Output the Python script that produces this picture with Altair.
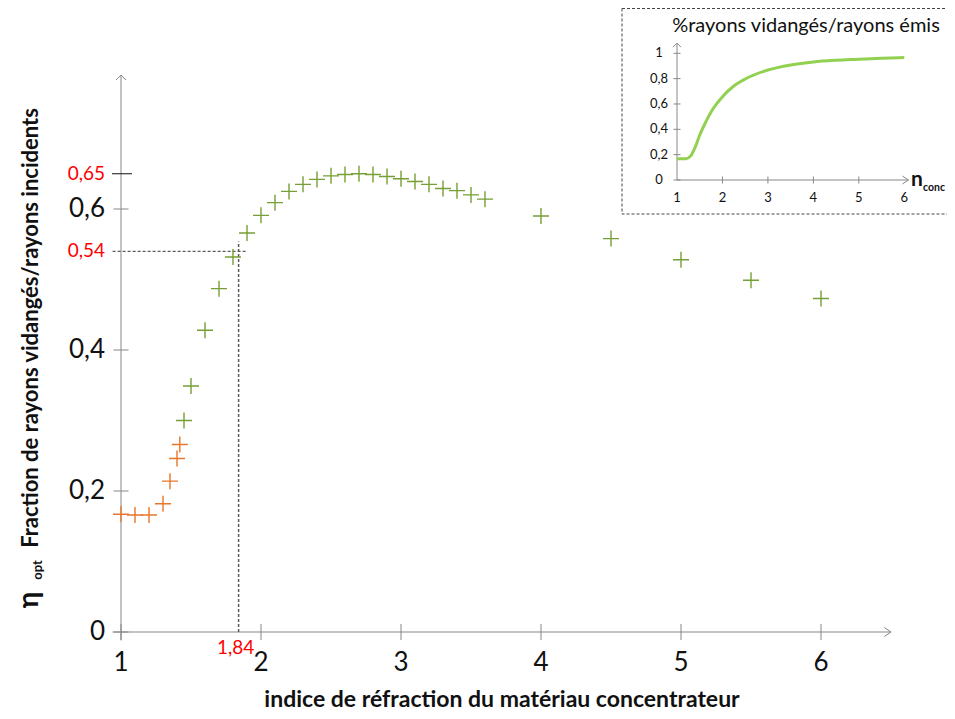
import altair as alt
import pandas as pd

# ---------------- data ----------------
orange_x = [1.0, 1.1, 1.2, 1.3, 1.35, 1.4, 1.42]
orange_y = [0.167, 0.166, 0.166, 0.182, 0.214, 0.246, 0.266]

green_x = [1.45, 1.5, 1.6, 1.7, 1.8, 1.9, 2.0, 2.1, 2.2, 2.3, 2.4, 2.5, 2.6, 2.7,
           2.8, 2.9, 3.0, 3.1, 3.2, 3.3, 3.4, 3.5, 3.6, 4.0, 4.5, 5.0, 5.5, 6.0]
green_y = [0.300, 0.349, 0.428, 0.487, 0.532, 0.566, 0.591, 0.609, 0.625, 0.635,
           0.642, 0.647, 0.649, 0.650, 0.649, 0.646, 0.643, 0.639, 0.635, 0.629,
           0.626, 0.620, 0.614, 0.590, 0.558, 0.528, 0.499, 0.473]

y_ticks = [0, 0.2, 0.4, 0.6]
y_tick_labels = ["0", "0,2", "0,4", "0,6"]
x_ticks = [1, 2, 3, 4, 5, 6]
x_tick_labels = ["1", "2", "3", "4", "5", "6"]

ref_y = [0.65, 0.54]
ref_y_labels = ["0,65", "0,54"]
ref_x = [1.84]
ref_x_labels = ["1,84"]

inset_x = [1.0, 1.2, 1.3, 1.4, 1.5, 1.6, 1.8, 2.0, 2.25, 2.5, 3.0, 3.5, 4.0, 4.5, 5.0, 5.5, 6.0]
inset_y = [0.168, 0.168, 0.19, 0.26, 0.355, 0.434, 0.566, 0.658, 0.742, 0.797, 0.868,
           0.908, 0.932, 0.945, 0.953, 0.961, 0.966]
inset_y_ticks = [0, 0.2, 0.4, 0.6, 0.8, 1]
inset_y_labels = ["0", "0,2", "0,4", "0,6", "0,8", "1"]
inset_x_ticks = [1, 2, 3, 4, 5, 6]
inset_x_labels = ["1", "2", "3", "4", "5", "6"]

# ---------------- styles ----------------
FONT = "Lato"
GRAY = "#878787"
ORANGE = "#E8762D"
GREEN = "#76A035"
LIME = "#92D050"
RED = "#FF0000"
BLACK = "#111111"
CROSS = "M-1,0L1,0M0,-1L0,1"

XS = alt.Scale(domain=[1, 6], range=[113, 813], nice=False, zero=False)
YS = alt.Scale(domain=[0, 0.6], range=[624, 201], nice=False, zero=False)
IXS = alt.Scale(domain=[1, 6], range=[669, 896.3], nice=False, zero=False)
IYS = alt.Scale(domain=[0, 1], range=[172, 45.3], nice=False, zero=False)

one = pd.DataFrame({"k": [0]})

df_orange = pd.DataFrame({"x": orange_x, "y": orange_y})
df_green = pd.DataFrame({"x": green_x, "y": green_y})
df_yt = pd.DataFrame({"v": y_ticks, "t": y_tick_labels})
df_xt = pd.DataFrame({"v": x_ticks, "t": x_tick_labels})
df_ry = pd.DataFrame({"v": ref_y, "t": ref_y_labels})
df_rx = pd.DataFrame({"v": ref_x, "t": ref_x_labels})
df_in = pd.DataFrame({"x": inset_x, "y": inset_y})
df_iyt = pd.DataFrame({"v": inset_y_ticks, "t": inset_y_labels})
df_ixt = pd.DataFrame({"v": inset_x_ticks, "t": inset_x_labels})


def mx(f="v"):
    return alt.X(f + ":Q", scale=XS, axis=None)


def my(f="v"):
    return alt.Y(f + ":Q", scale=YS, axis=None)


def dx_(v, s=XS):
    return alt.XDatum(v, scale=s, axis=None)


def dy_(v, s=YS):
    return alt.YDatum(v, scale=s, axis=None)


layers = []

# ---- main axes ----
layers.append(alt.Chart(one).mark_rule(color=GRAY, strokeWidth=1).encode(
    x=dx_(1), y=dy_(-0.012), y2=alt.Y2Datum(0.79)))
layers.append(alt.Chart(one).mark_rule(color=GRAY, strokeWidth=1).encode(
    x=dx_(0.94), x2=alt.X2Datum(6.5), y=dy_(0)))
layers.append(alt.Chart(one).mark_point(shape="M-1,1L0,0L1,1", size=100, filled=False,
                                        color=GRAY, strokeWidth=1, opacity=1).encode(
    x=dx_(1), y=dy_(0.79)))
layers.append(alt.Chart(one).mark_point(shape="M-1.5,-1L0,0L-1.5,1", size=81, filled=False,
                                        color=GRAY, strokeWidth=1, opacity=1).encode(
    x=dx_(6.5), y=dy_(0)))
# y ticks
layers.append(alt.Chart(df_yt).mark_point(shape="M-1,0L1,0", size=225, filled=False,
                                          color=GRAY, strokeWidth=1, opacity=1).encode(
    x=dx_(1), y=my()))
# x ticks
layers.append(alt.Chart(df_xt).mark_point(shape="M0,-1L0,1", size=256, filled=False,
                                          color=GRAY, strokeWidth=1, opacity=1).encode(
    x=mx(), y=dy_(0)))
# 0.65 tick (black)
layers.append(alt.Chart(df_ry.iloc[[0]]).mark_point(shape="M-1,0L1,0", size=400, filled=False,
                                                    color=BLACK, strokeWidth=1, opacity=1,
                                                    xOffset=1).encode(
    x=dx_(1), y=my()))
# tick labels
layers.append(alt.Chart(df_yt).mark_text(align="right", baseline="middle", dx=-16, fontSize=26,
                                         font=FONT, color=BLACK).encode(
    x=dx_(1), y=my(), text="t:N"))
layers.append(alt.Chart(df_xt).mark_text(align="center", baseline="middle", dy=31, fontSize=26,
                                         font=FONT, color=BLACK).encode(
    x=mx(), y=dy_(0), text="t:N"))
layers.append(alt.Chart(df_ry).mark_text(align="right", baseline="middle", dx=-16, fontSize=19,
                                         font=FONT, color=RED).encode(
    x=dx_(1), y=my(), text="t:N"))
layers.append(alt.Chart(df_rx).mark_text(align="center", baseline="middle", dx=-3, dy=16,
                                         fontSize=19, font=FONT, color=RED).encode(
    x=mx(), y=dy_(0), text="t:N"))

# ---- reference dashed lines ----
layers.append(alt.Chart(df_ry.iloc[[1]]).mark_rule(color="#333333", strokeWidth=1,
                                                   strokeDash=[3, 2]).encode(
    x=dx_(0.94), x2=alt.X2Datum(1.89), y=my()))
layers.append(alt.Chart(df_rx).mark_rule(color="#5a5a5a", strokeWidth=1.5,
                                         strokeDash=[3, 2]).encode(
    x=mx(), y=dy_(0), y2=alt.Y2Datum(0.554)))

# ---- data points ----
layers.append(alt.Chart(df_orange).mark_point(shape=CROSS, size=256, filled=False, color=ORANGE,
                                              strokeWidth=1.4, opacity=1).encode(
    x=mx("x"), y=my("y")))
layers.append(alt.Chart(df_green).mark_point(shape=CROSS, size=256, filled=False, color=GREEN,
                                             strokeWidth=1.4, opacity=1).encode(
    x=mx("x"), y=my("y")))

# ---- titles ----
layers.append(alt.Chart(one).mark_text(text="indice de réfraction du matériau concentrateur",
                                       font=FONT, fontSize=23, fontWeight="bold", color=BLACK,
                                       align="center", baseline="alphabetic").encode(
    x=alt.value(494), y=alt.value(699)))
layers.append(alt.Chart(one).mark_text(text="Fraction de rayons vidangés/rayons incidents",
                                       font=FONT, fontSize=22, fontWeight="bold", color=BLACK,
                                       align="center", baseline="alphabetic", angle=270).encode(
    x=alt.value(30), y=alt.value(320)))
layers.append(alt.Chart(one).mark_text(text="η", font=FONT, fontSize=28, fontWeight="bold",
                                       color=BLACK, align="center", baseline="alphabetic",
                                       angle=270).encode(
    x=alt.value(30), y=alt.value(592)))
layers.append(alt.Chart(one).mark_text(text="opt", font=FONT, fontSize=13, fontWeight="bold",
                                       color=BLACK, align="center", baseline="alphabetic",
                                       angle=270).encode(
    x=alt.value(34), y=alt.value(562)))

# ---- inset ----
layers.append(alt.Chart(one).mark_rect(fill="white", stroke="#444444", strokeWidth=1,
                                       strokeDash=[3, 2]).encode(
    x=alt.value(614), x2=alt.value(970), y=alt.value(0.5), y2=alt.value(206)))
layers.append(alt.Chart(one).mark_text(text="%rayons vidangés/rayons émis", font=FONT,
                                       fontSize=20, color=BLACK, align="center",
                                       baseline="middle").encode(
    x=alt.value(798), y=alt.value(18)))
layers.append(alt.Chart(one).mark_rule(color=GRAY, strokeWidth=1).encode(
    x=dx_(1, IXS), y=dy_(0, IYS), y2=alt.Y2Datum(1.08)))
layers.append(alt.Chart(one).mark_rule(color=GRAY, strokeWidth=1).encode(
    x=dx_(1, IXS), x2=alt.X2Datum(6.09), y=dy_(0, IYS)))
layers.append(alt.Chart(one).mark_point(shape="M-1,1L0,0L1,1", size=64, filled=False,
                                        color=GRAY, strokeWidth=1, opacity=1).encode(
    x=dx_(1, IXS), y=dy_(1.08, IYS)))
layers.append(alt.Chart(one).mark_point(shape="M-1.5,-1L0,0L-1.5,1", size=64, filled=False,
                                        color=GRAY, strokeWidth=1, opacity=1).encode(
    x=dx_(6.09, IXS), y=dy_(0, IYS)))
layers.append(alt.Chart(df_iyt).mark_point(shape="M-1,0L1,0", size=49, filled=False,
                                           color=GRAY, strokeWidth=1, opacity=1).encode(
    x=dx_(1, IXS), y=alt.Y("v:Q", scale=IYS, axis=None)))
layers.append(alt.Chart(df_ixt.iloc[1:5]).mark_point(shape="M0,-1L0,1", size=49, filled=False,
                                                     color=GRAY, strokeWidth=1, opacity=1).encode(
    x=alt.X("v:Q", scale=IXS, axis=None), y=dy_(0, IYS)))
layers.append(alt.Chart(df_iyt).mark_text(align="center", baseline="middle", dx=-18, fontSize=13,
                                          font=FONT, color=BLACK).encode(
    x=dx_(1, IXS), y=alt.Y("v:Q", scale=IYS, axis=None), text="t:N"))
layers.append(alt.Chart(df_ixt).mark_text(align="center", baseline="middle", dy=18, fontSize=13,
                                          font=FONT, color=BLACK).encode(
    x=alt.X("v:Q", scale=IXS, axis=None), y=dy_(0, IYS), text="t:N"))
layers.append(alt.Chart(df_in).mark_line(color=LIME, strokeWidth=3, interpolate="monotone").encode(
    x=alt.X("x:Q", scale=IXS, axis=None), y=alt.Y("y:Q", scale=IYS, axis=None)))
layers.append(alt.Chart(one).mark_text(text="n", font=FONT, fontSize=21, fontWeight="bold",
                                       color=BLACK, align="left", baseline="alphabetic").encode(
    x=alt.value(903), y=alt.value(178)))
layers.append(alt.Chart(one).mark_text(text="conc", font=FONT, fontSize=10.5, fontWeight="bold",
                                       color=BLACK, align="left", baseline="alphabetic").encode(
    x=alt.value(915), y=alt.value(183)))

chart = alt.layer(*layers).resolve_scale(x="independent", y="independent").properties(
    width=939, height=703, autosize=alt.AutoSizeParams(type="none"), padding=0,
    background="white"
).configure_view(stroke=None)

chart.save("out.html", embed_options={"renderer": "svg", "actions": False})
